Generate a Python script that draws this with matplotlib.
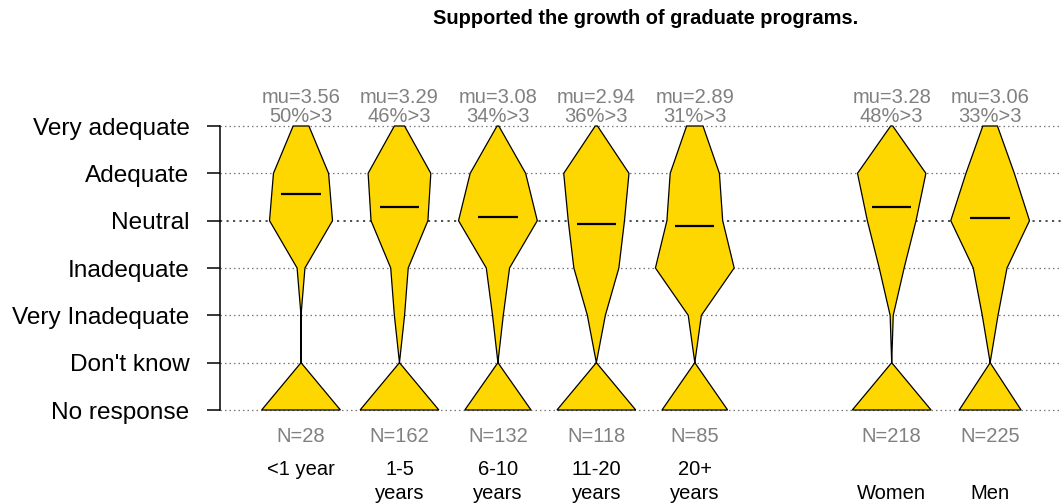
import matplotlib
matplotlib.use("Agg")
import matplotlib.pyplot as plt
import numpy as np

plt.rcParams["font.family"] = ["Liberation Sans", "DejaVu Sans"]

# response levels, top to bottom (scores 5..1, then Don't know, No response)
levels = ["Very adequate", "Adequate", "Neutral", "Inadequate",
          "Very Inadequate", "Don't know", "No response"]
scores = [5, 4, 3, 2, 1]

group_labels = ["<1 year", "1-5\nyears", "6-10\nyears", "11-20\nyears",
                "20+\nyears", "\nWomen", "\nMen"]

# counts per level (same order as `levels`)
lt1_year = [2, 7, 8, 1, 0, 0, 10]
y1_5 = [7, 43, 39, 12, 7, 0, 54]
y6_10 = [1, 31, 44, 13, 6, 0, 37]
y11_20 = [1, 29, 25, 20, 8, 0, 35]
y20_plus = [5, 15, 17, 24, 4, 0, 20]
women = [2, 66, 47, 24, 3, 0, 76]
men = [13, 43, 70, 30, 14, 0, 55]

counts = [lt1_year, y1_5, y6_10, y11_20, y20_plus, women, men]
positions = [1, 2, 3, 4, 5, 7, 8]

title = "Supported the growth of graduate programs."

fig = plt.figure(figsize=(10.62, 5.04), dpi=100)
ax = fig.add_axes([220 / 1062, 94 / 504, 842 / 1062, 284 / 504])
ax.set_xlim(0.177, 8.73)
ax.set_ylim(-1, 5)

level_y = np.arange(5, -2, -1)

# dotted reference lines
for yv in level_y:
    dark = yv == 3
    ax.axhline(yv, color="#404040" if dark else "#777777", lw=1.3 if dark else 0.9,
               ls=(0, (1.2, 2.4)), zorder=1, clip_on=False)

for pos, cnt in zip(positions, counts):
    cnt = np.asarray(cnt, dtype=float)
    half = cnt / cnt.max() * 0.4
    xs = np.concatenate([pos + half, (pos - half)[::-1]])
    ys = np.concatenate([level_y, level_y[::-1]])
    ax.fill(xs, ys, facecolor="#FFD700", edgecolor="black", lw=0.9,
            zorder=3, clip_on=False)

    valid = cnt[:5]
    n_valid = valid.sum()
    mu = (valid * scores).sum() / n_valid
    pct = valid[:2].sum() / n_valid * 100
    ax.plot([pos - 0.2, pos + 0.2], [mu, mu], color="black", lw=1.6,
            zorder=4, solid_capstyle="butt")

    ax.text(pos, 5.60, f"mu={mu:.2f}", ha="center", va="center",
            fontsize=14.5, color="#808080", clip_on=False)
    ax.text(pos, 5.20, f"{pct:.0f}%>3", ha="center", va="center",
            fontsize=14.5, color="#808080", clip_on=False)
    ax.text(pos, -1.57, f"N={int(cnt.sum())}", ha="center", va="center",
            fontsize=14.5, color="#808080", clip_on=False)

for pos, lab in zip(positions, group_labels):
    ax.text(pos, -2.05, lab, ha="center", va="top", fontsize=14.5,
            color="black", linespacing=1.36, clip_on=False)

ax.set_yticks(level_y)
ax.set_yticklabels(levels)
ax.tick_params(axis="y", length=9.5, width=1.1, pad=12.5, labelsize=17.6)
ax.set_xticks([])
for side in ["top", "right", "bottom"]:
    ax.spines[side].set_visible(False)
ax.spines["left"].set_bounds(-1, 5)
ax.spines["left"].set_linewidth(1.1)
ax.patch.set_alpha(0)

fig.text(646 / 1062, 1 - 19 / 504, title, ha="center", va="center",
         fontsize=14.4, fontweight="bold")

fig.savefig("out.png", dpi=100)
